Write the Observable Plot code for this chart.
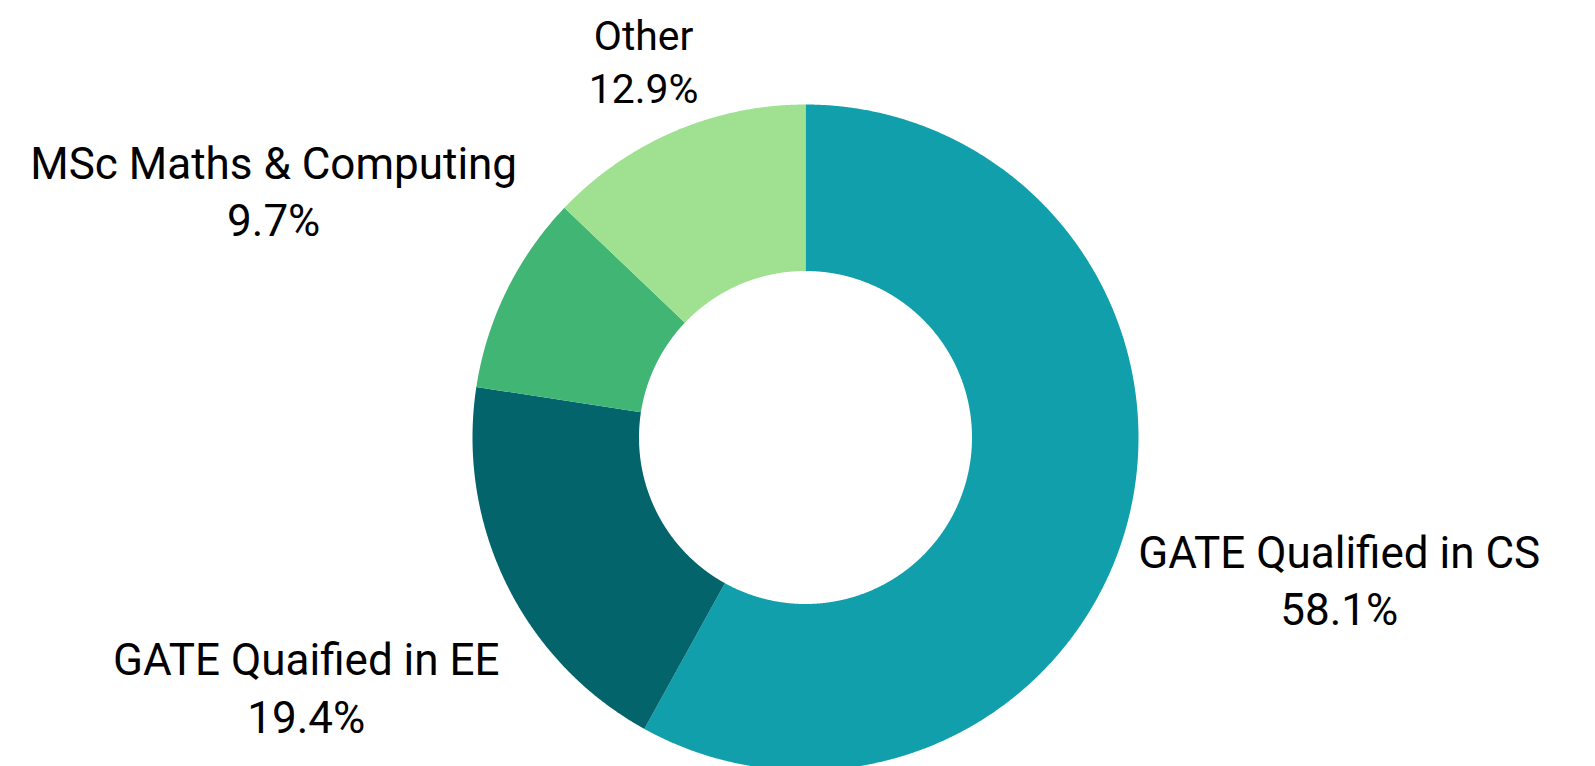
<!DOCTYPE html>
<html><head><meta charset="utf-8">
<script src="https://cdn.jsdelivr.net/npm/d3@7"></script>
<script src="https://cdn.jsdelivr.net/npm/@observablehq/plot@0.6"></script>
<style>html,body{margin:0;padding:0;background:#fff;}</style>
</head><body><div id="chart"></div>
<script>
// ---- data ----
const categories = ["GATE Qualified in CS", "GATE Quaified in EE", "MSc Maths & Computing", "Other"];
const shares = [58.1, 19.4, 9.7, 12.9];
const colors = ["#109fab", "#03646c", "#41b574", "#a0e191"];

// ---- layout ----
const W = 1595, H = 766, CX = 805, CY = 437, R = 333, HOLE = 0.5, FS = 44, TOP_PAD = 12;
const LABEL_RY = 1.69, LABEL_RX = 1.25, LABEL_W = 0.65;

const rows = categories.map((name, i) => ({name, value: shares[i]}));
const arcs = d3.pie().sort(null).value(d => d.value)(rows);

const pts = [];
for (const a of arcs) {
  const n = Math.max(2, Math.ceil((a.endAngle - a.startAngle) / 0.004));
  for (let j = 0; j <= n; j++) {
    const t = a.startAngle + (a.endAngle - a.startAngle) * j / n;
    pts.push({name: a.data.name, x: Math.sin(t), y: Math.cos(t)});
  }
  for (let j = n; j >= 0; j--) {
    const t = a.startAngle + (a.endAngle - a.startAngle) * j / n;
    pts.push({name: a.data.name, x: HOLE * Math.sin(t), y: HOLE * Math.cos(t)});
  }
}

const ctx = document.createElement("canvas").getContext("2d");
function textWidth(s, fs) { ctx.font = fs + "px Roboto"; return ctx.measureText(s).width; }

const labels = arcs.map(a => {
  const t = (a.startAngle + a.endAngle) / 2;
  const s = Math.sin(t), c = Math.cos(t);
  const pct = a.data.value.toFixed(1) + "%";
  let fs = FS, x, y;
  if (c > 0 && CY - LABEL_RY * R * c - 1.15 * fs < TOP_PAD) {
    // not enough room above: pull the label in along its radius
    fs = FS * 0.93;
    const k = (CY - TOP_PAD - 1.15 * fs) / (R * c);
    x = k * s; y = k * c;
  } else {
    const hw = Math.max(textWidth(a.data.name, fs), textWidth(pct, fs)) / 2;
    x = LABEL_RX * s + Math.sign(s) * LABEL_W * hw / R;
    y = LABEL_RY * c;
  }
  return {x, y, fs, text: a.data.name + "\n" + pct};
});

const chart = Plot.plot({
  width: W, height: H, margin: 0,
  x: {domain: [-CX / R, (W - CX) / R], axis: null},
  y: {domain: [-(H - CY) / R, CY / R], axis: null},
  color: {domain: categories, range: colors},
  style: {fontFamily: "Roboto", background: "white"},
  marks: [
    Plot.line(pts, {x: "x", y: "y", z: "name", fill: "name", stroke: "none", curve: "linear-closed"}),
    Plot.text(labels, {x: "x", y: "y", text: "text", fontSize: d => d.fs, lineHeight: 1.3, fill: "#000", textAnchor: "middle", lineAnchor: "middle"})
  ]
});
document.getElementById("chart").appendChild(chart);
</script>
</body></html>
